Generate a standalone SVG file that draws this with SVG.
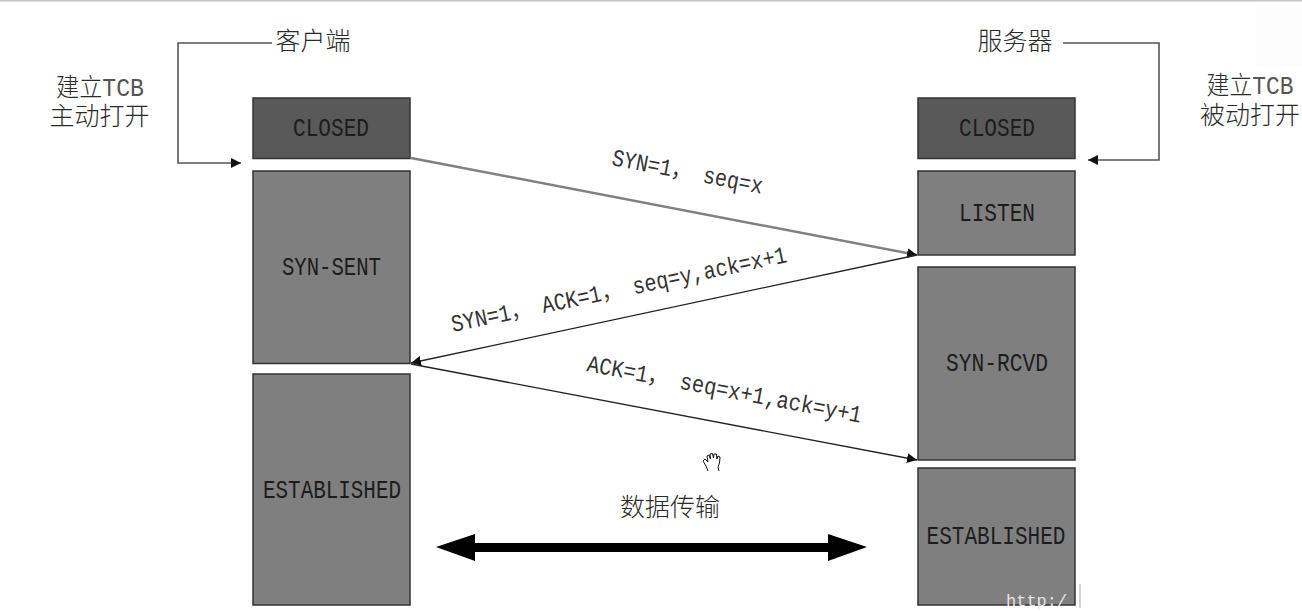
<svg xmlns="http://www.w3.org/2000/svg" width="1302" height="611" viewBox="0 0 1302 611">
<style>
.st{stroke:#333;stroke-width:1.5}
.dark{fill:#595959}
.mid{fill:#7f7f7f}
.m{font-family:"Liberation Mono","Noto Sans CJK SC",monospace;font-size:25px;text-anchor:middle;fill:#1c1c1c}
.c{font-family:"Liberation Mono","Noto Sans CJK SC",monospace;font-size:25px;text-anchor:middle;font-weight:300;fill:#2a2a2a}
.l{font-family:"Liberation Mono","Noto Sans CJK SC",monospace;font-size:24px;fill:#333}
.t{fill:#555}
.w{fill:none;stroke:#555;stroke-width:1.6}
.a{fill:none;stroke:#222;stroke-width:1.3}
</style>
<defs>
<marker id="ah" markerUnits="userSpaceOnUse" markerWidth="12" markerHeight="10" refX="10" refY="5" orient="auto"><path d="M0 0L10 5L0 10Z" fill="#111"/></marker>
</defs>
<rect width="1302" height="611" fill="#fff"/>
<rect width="1302" height="1.500" fill="#c4c4c4"/>
<rect x="1256" y="5" width="46" height="62" fill="#fcfcfc"/>
<g id="client-title"><text class="c" x="313" y="50">客户端</text></g>
<g id="server-title"><text class="c" x="1015" y="50">服务器</text></g>
<g id="client-note"><text class="c" x="100" y="96" textLength="88" lengthAdjust="spacingAndGlyphs">建立<tspan class="t">TCB</tspan></text><text class="c" x="99.500" y="125">主动打开</text></g>
<g id="server-note"><text class="c" x="1250" y="94" textLength="87" lengthAdjust="spacingAndGlyphs">建立<tspan class="t">TCB</tspan></text><text class="c" x="1250" y="124">被动打开</text></g>
<g id="client-closed"><rect class="st dark" x="253" y="98" width="157" height="60.500"/><text class="m" x="331" y="136" textLength="76" lengthAdjust="spacingAndGlyphs">CLOSED</text></g>
<g id="client-syn-sent"><rect class="st mid" x="253" y="171" width="157" height="192.500"/><text class="m" x="331.500" y="275" textLength="99" lengthAdjust="spacingAndGlyphs">SYN-SENT</text></g>
<g id="client-established"><rect class="st mid" x="253" y="374" width="157" height="231"/><text class="m" x="332" y="498" textLength="138" lengthAdjust="spacingAndGlyphs">ESTABLISHED</text></g>
<g id="server-closed"><rect class="st dark" x="918" y="98" width="157" height="60.500"/><text class="m" x="997" y="136" textLength="76" lengthAdjust="spacingAndGlyphs">CLOSED</text></g>
<g id="server-listen"><rect class="st mid" x="918" y="171" width="157" height="84"/><text class="m" x="997" y="221" textLength="76" lengthAdjust="spacingAndGlyphs">LISTEN</text></g>
<g id="server-syn-rcvd"><rect class="st mid" x="918" y="267" width="157" height="193"/><text class="m" x="997" y="371" textLength="102" lengthAdjust="spacingAndGlyphs">SYN-RCVD</text></g>
<g id="server-established"><rect class="st mid" x="918" y="468" width="157" height="137"/><text class="m" x="996" y="544" textLength="139" lengthAdjust="spacingAndGlyphs">ESTABLISHED</text></g>
<g id="connectors">
<path class="w" d="M272 43H178V163H241" marker-end="url(#ah)"/>
<path class="w" d="M1063 43H1159V160H1088" marker-end="url(#ah)"/>
<path d="M411 158L917 255" fill="none" stroke="#808080" stroke-width="2.400" marker-end="url(#ah)"/>
<path class="a" d="M917 255L411 363" marker-end="url(#ah)"/>
<path class="a" d="M411 364L917 460" marker-end="url(#ah)"/>
<path d="M436 547L475 534V543H828V534L867 547L828 561V552H475V561Z" fill="#000" id="data-arrow"/>
</g>
<g id="labels">
<text class="l" transform="translate(611 165) rotate(10.800)" textLength="153" lengthAdjust="spacingAndGlyphs">SYN=1， seq=x</text>
<text class="l" transform="translate(453 332) rotate(-11.800)" textLength="342" lengthAdjust="spacingAndGlyphs">SYN=1， ACK=1， seq=y,ack=x+1</text>
<text class="l" transform="translate(586 371) rotate(10.700)" textLength="279" lengthAdjust="spacingAndGlyphs">ACK=1， seq=x+1,ack=y+1</text>
<text class="c" x="670" y="516">数据传输</text>
</g>
<g id="cursor" fill="#fff" stroke="#111" stroke-width="1" stroke-linejoin="round">
<path d="M708 471L706 466L703 461L705 459L708 462L707 456L709 455L710.500 459L710 454L712.500 453.500L713.500 458L714 454L716.500 454L716.800 459L718 456L720 457L719.500 463L718 467L719 471"/>
</g>
<text x="1006" y="606" font-family="Liberation Mono,monospace" font-size="17" style="fill:#e2e2e2">http:/</text>
<rect x="1079" y="584" width="2" height="24" fill="#d4d4d4"/>
</svg>
